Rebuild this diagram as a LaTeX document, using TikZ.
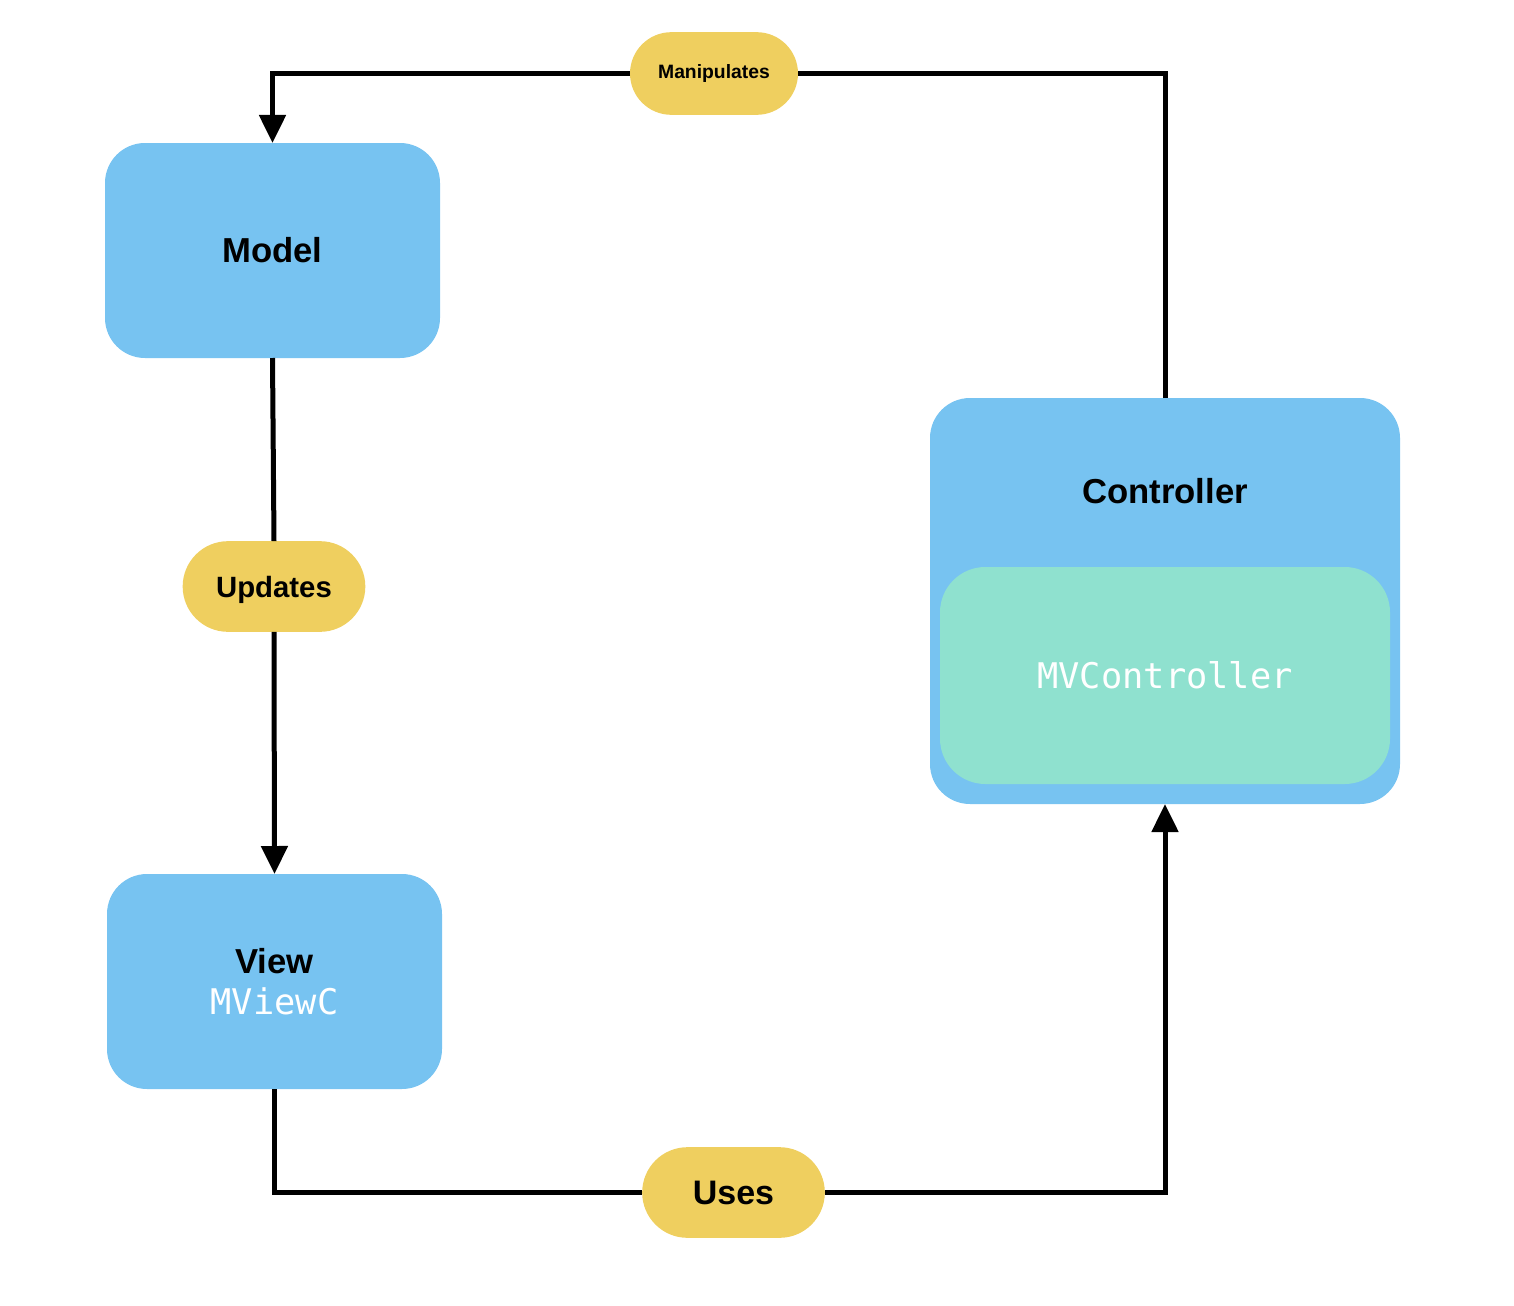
\documentclass[tikz,border=0pt]{standalone}
\usepackage{fontspec}
\setmainfont{Liberation Sans}
\setmonofont{DejaVu Sans Mono}
\usetikzlibrary{arrows.meta}

\definecolor{boxblue}{RGB}{119,195,241}
\definecolor{pillyellow}{RGB}{239,207,95}
\definecolor{mintgreen}{RGB}{143,225,207}

\tikzset{every picture/.style={line width=3.75pt}}
\tikzset{
	block/.style={fill=boxblue, rounded corners=30pt, outer sep=0pt, inner sep=0pt,
		font=\fontsize{26}{30}\selectfont\bfseries, align=center},
	pill/.style={fill=pillyellow, rounded corners=#1, outer sep=0pt, inner sep=0pt,
		font=\bfseries},
	codebox/.style={fill=mintgreen, rounded corners=34pt, outer sep=0pt, inner sep=0pt,
		font=\fontsize{26.5}{30}\selectfont\ttfamily, text=white},
	flow/.style={draw=black, line width=3.75pt},
	flowarrow/.style={flow, -{Triangle[width=19.5pt,length=21pt]}}}

\begin{document}
\begin{tikzpicture}[x=0.75pt,y=0.75pt,yscale=-1,xscale=1]
	\useasboundingbox (0,0) rectangle (1514,1306);

	%Shape: Rounded Rect [id:model]
	\node[block, minimum width=251.25pt, minimum height=161.25pt] (model) at (272.5,250.5) {Model};
	%Shape: Rounded Rect [id:view]
	\node[block, minimum width=251.25pt, minimum height=161.25pt] (view) at (274.5,981.5)
		{View\\[1pt]{\mdseries\ttfamily\fontsize{26.5}{30}\selectfont\color{white}MViewC}};
	%Shape: Rounded Rect [id:ctrl]
	\node[block, minimum width=352.5pt, minimum height=304.5pt] (ctrl) at (1165,601) {};
	%Shape: Rounded Rect [id:mvc]
	\node[codebox, minimum width=337.5pt, minimum height=162.75pt] (mvc) at (1165,675.5) {MVController};

	% Text Node
	\node[font=\fontsize{26}{30}\selectfont\bfseries] (ctrltext) at (1165,491) {Controller};

	% Labels on the connectors
	\node[pill=31pt, minimum width=126pt, minimum height=62pt, font=\fontsize{14.5}{16}\selectfont\bfseries] (manip) at (714,73.5) {Manipulates};
	\node[pill=34pt, minimum width=137pt, minimum height=68pt, text depth=0pt, font=\fontsize{22}{26}\selectfont\bfseries] (upd) at (274,586.5) {Updates};
	\node[pill=34pt, minimum width=137pt, minimum height=68pt, font=\fontsize{25.5}{30}\selectfont\bfseries] (uses) at (733.5,1192.5) {Uses};

	% Connectors
	\draw[flow] (ctrl.north) |- (manip.east);
	\draw[flowarrow] (manip.west) -| (model.north);
	\draw[flow] (model.south) -- (upd.north);
	\draw[flowarrow] (upd.south) -- (view.north);
	\draw[flow] (view.south) |- (uses.west);
	\draw[flowarrow] (uses.east) -| (ctrl.south);

\end{tikzpicture}
\end{document}
